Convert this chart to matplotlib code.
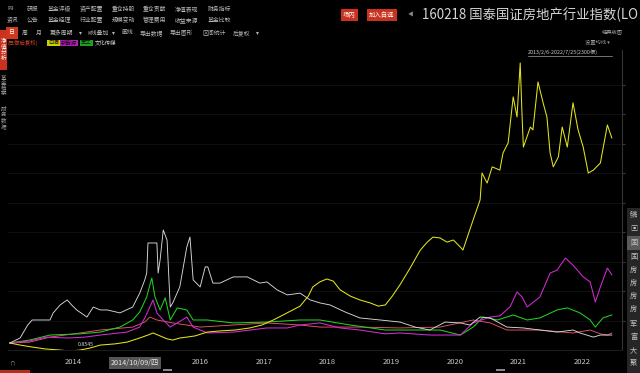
import matplotlib
matplotlib.use('Agg')
import matplotlib.pyplot as plt
from matplotlib.transforms import ScaledTranslation
from matplotlib.patches import Rectangle

plt.rcParams['font.family'] = ['Noto Sans CJK SC', 'DejaVu Sans']

# ---------------- data (normalised value, start = 1.0) ----------------
baijiu_t = [2013.10, 2013.26, 2013.46, 2013.65, 2013.89, 2014.04, 2014.20, 2014.36, 2014.52, 2014.75,
            2014.94, 2015.14, 2015.27, 2015.35, 2015.46, 2015.57, 2015.66, 2015.77, 2015.88, 2016.01,
            2016.20, 2016.40, 2016.64, 2016.87, 2017.06, 2017.24, 2017.42, 2017.66, 2017.79, 2017.86,
            2017.97, 2018.08, 2018.18, 2018.29, 2018.45, 2018.60, 2018.76, 2018.89, 2019.00, 2019.11,
            2019.23, 2019.39, 2019.55, 2019.66, 2019.75, 2019.86, 2019.97, 2020.07, 2020.18, 2020.22,
            2020.30, 2020.38, 2020.49, 2020.52, 2020.60, 2020.68, 2020.80, 2020.85, 2020.93, 2021.01,
            2021.07, 2021.12, 2021.15, 2021.17, 2021.28, 2021.32, 2021.40, 2021.48, 2021.54, 2021.59,
            2021.64, 2021.72, 2021.78, 2021.86, 2021.95, 2022.03, 2022.11, 2022.19, 2022.27, 2022.38,
            2022.49, 2022.56]
baijiu_v = [1.00, 0.93, 0.86, 0.80, 0.76, 0.73, 0.76, 0.83, 0.93, 0.97,
            1.03, 1.17, 1.27, 1.34, 1.24, 1.14, 1.10, 1.17, 1.20, 1.24,
            1.37, 1.41, 1.44, 1.51, 1.61, 1.78, 1.98, 2.25, 2.59, 2.90,
            3.07, 3.17, 3.10, 2.80, 2.59, 2.46, 2.36, 2.25, 2.29, 2.59,
            2.97, 3.54, 4.15, 4.42, 4.59, 4.56, 4.42, 4.49, 4.25, 4.15,
            4.66, 5.17, 5.85, 6.76, 6.42, 6.97, 6.86, 7.44, 7.78, 9.34,
            8.66, 10.49, 8.66, 7.64, 8.32, 8.22, 9.85, 9.14, 8.66, 7.44,
            6.97, 7.31, 8.32, 7.64, 9.14, 8.22, 7.64, 6.76, 6.86, 7.10,
            8.39, 7.95]

media_t = [2013.10, 2013.26, 2013.38, 2013.45, 2013.73, 2013.78, 2013.89, 2014.00, 2014.07, 2014.15,
           2014.31, 2014.41, 2014.52, 2014.63, 2014.83, 2015.03, 2015.14, 2015.22, 2015.25, 2015.27,
           2015.41, 2015.43, 2015.46, 2015.51, 2015.57, 2015.62, 2015.66, 2015.77, 2015.88, 2015.93,
           2015.98, 2016.09, 2016.17, 2016.21, 2016.29, 2016.40, 2016.61, 2016.83, 2017.03, 2017.14,
           2017.30, 2017.46, 2017.66, 2017.82, 2017.97, 2018.13, 2018.37, 2018.60, 2018.92, 2019.23,
           2019.47, 2019.70, 2019.94, 2020.18, 2020.33, 2020.49, 2020.65, 2020.91, 2021.17, 2021.43,
           2021.70, 2021.95, 2022.06, 2022.27, 2022.38, 2022.56]
media_v = [1.00, 1.17, 1.61, 1.78, 1.78, 2.02, 2.29, 2.46, 2.29, 2.12,
           1.88, 2.22, 2.12, 2.12, 2.02, 2.22, 2.69, 3.14, 3.37, 4.39,
           4.39, 3.37, 3.81, 4.83, 4.49, 2.22, 2.36, 2.90, 4.25, 4.59,
           3.14, 2.90, 3.58, 3.58, 3.03, 3.03, 3.24, 3.24, 3.03, 3.07,
           2.80, 2.63, 2.69, 2.46, 2.36, 2.29, 2.05, 1.85, 1.78, 1.71,
           1.54, 1.44, 1.71, 1.68, 1.61, 1.88, 1.85, 1.54, 1.51, 1.44,
           1.37, 1.44, 1.34, 1.20, 1.27, 1.27]

newenergy_t = [2013.10, 2013.41, 2013.68, 2014.00, 2014.28, 2014.52, 2014.94, 2015.14, 2015.22, 2015.30,
               2015.35, 2015.41, 2015.51, 2015.62, 2015.73, 2015.88, 2015.98, 2016.20, 2016.61, 2017.14,
               2017.46, 2017.66, 2017.97, 2018.29, 2018.60, 2019.00, 2019.23, 2019.70, 2020.18, 2020.38,
               2020.65, 2020.80, 2020.96, 2021.07, 2021.15, 2021.23, 2021.43, 2021.59, 2021.70, 2021.83,
               2021.95, 2022.11, 2022.22, 2022.30, 2022.38, 2022.49, 2022.56]
newenergy_v = [1.00, 1.07, 1.20, 1.17, 1.20, 1.27, 1.37, 1.54, 1.85, 2.22,
               2.46, 2.02, 1.78, 1.54, 1.68, 1.88, 1.54, 1.34, 1.37, 1.51,
               1.51, 1.61, 1.68, 1.51, 1.44, 1.31, 1.34, 1.27, 1.27, 1.68,
               1.88, 1.92, 2.22, 2.73, 2.56, 2.22, 2.56, 3.37, 3.47, 3.88,
               3.64, 3.24, 3.07, 2.39, 2.90, 3.54, 3.31]

military_t = [2013.10, 2013.41, 2013.73, 2014.20, 2014.52, 2014.83, 2015.03, 2015.14, 2015.25, 2015.30,
              2015.33, 2015.38, 2015.46, 2015.54, 2015.62, 2015.73, 2015.88, 2015.98, 2016.20, 2016.61,
              2017.14, 2017.66, 2017.97, 2018.45, 2019.00, 2019.23, 2019.86, 2020.18, 2020.38, 2020.54,
              2020.76, 2021.01, 2021.23, 2021.43, 2021.70, 2021.86, 2022.06, 2022.22, 2022.30, 2022.42,
              2022.56]
military_v = [1.00, 1.10, 1.27, 1.31, 1.37, 1.54, 1.78, 2.05, 2.56, 2.97,
              3.20, 2.56, 2.12, 2.53, 1.78, 2.19, 2.12, 1.78, 1.78, 1.68,
              1.71, 1.78, 1.78, 1.61, 1.44, 1.44, 1.44, 1.27, 1.54, 1.88,
              1.78, 1.95, 1.78, 1.85, 2.12, 2.19, 2.02, 1.78, 1.54, 1.85,
              1.95]

realestate_t = [2013.10, 2013.41, 2013.73, 2014.20, 2014.52, 2015.03, 2015.22, 2015.30, 2015.41, 2015.66,
                2016.09, 2016.61, 2017.14, 2017.66, 2017.97, 2018.60, 2019.23, 2019.86, 2020.38, 2020.65,
                2020.91, 2021.43, 2021.95, 2022.22, 2022.38, 2022.49, 2022.56]
realestate_v = [1.00, 1.03, 1.20, 1.34, 1.44, 1.54, 1.71, 1.88, 1.78, 1.68,
                1.54, 1.61, 1.68, 1.61, 1.54, 1.54, 1.51, 1.54, 1.78, 1.68,
                1.44, 1.44, 1.34, 1.44, 1.31, 1.27, 1.34]

year_ticks = [2014, 2016, 2017, 2018, 2019, 2020, 2021, 2022]
grid_levels = [1.75, 2.75, 3.75, 4.75, 5.75, 6.75, 7.75, 8.75, 9.75]

menu_row1 = ['F9', '研报', '基金评级', '资产配置', '重仓持股', '重仓贡献', '净值表现', '财务指标']
menu_row2 = ['资讯', '公告', '基金经理', '行业配置', '规模变动', '管理费用', '收益来源', '基金比较']
side_list = ['鳞', '▣', '国', '国', '房', '房', '房', '房', '军', '富', '大', '聚']

# ---------------- figure ----------------
W, H = 640, 373
fig = plt.figure(figsize=(6.4, 3.73), dpi=100, facecolor='black')


def fx(px):
    return px / W


def fy(py):
    return 1 - py / H


def ftext(px, py, s, **kw):
    kw.setdefault('color', '#b8b8b8')
    kw.setdefault('fontsize', 4.2)
    kw.setdefault('va', 'center')
    return fig.text(fx(px), fy(py), s, **kw)


def frect(x0, y0, x1, y1, color):
    fig.add_artist(Rectangle((fx(x0), fy(y1)), fx(x1) - fx(x0), fy(y0) - fy(y1),
                             transform=fig.transFigure, facecolor=color, edgecolor='none'))


# main chart axes
ax = fig.add_axes([fx(8), fy(350), fx(622) - fx(8), fy(50) - fy(350)])
ax.set_facecolor('black')
ax.set_xlim(2013.07, 2022.72)
ax.set_ylim(0.763, 10.93)

for lv in grid_levels:
    ax.axhline(lv, color='#121212', lw=0.6, zorder=0)

ax.plot(realestate_t, realestate_v, color='#e8556a', lw=0.65, zorder=2)
ax.plot(military_t, military_v, color='#22d022', lw=0.75, zorder=3)
ax.plot(newenergy_t, newenergy_v, color='#d42ad4', lw=0.75, zorder=3)
ax.plot(media_t, media_v, color='#d8d8d8', lw=0.65, zorder=4)
ax.plot(baijiu_t, baijiu_v, color='#e4e41c', lw=0.75, zorder=5)

ax.text(2014.17, 0.95, '0.8545', color='#d8d8d8', fontsize=3.8, va='center', zorder=6)

for s in ['top', 'left']:
    ax.spines[s].set_visible(False)
ax.spines['right'].set_color('#333333')
ax.spines['bottom'].set_color('#1c1c1c')
ax.yaxis.tick_right()
ax.set_yticks(grid_levels)
ax.tick_params(axis='y', length=2.5, color='#3a3a3a', labelright=False)
ax.set_xticks(year_ticks)
ax.set_xticklabels([str(y) for y in year_ticks])
ax.tick_params(axis='x', length=0, pad=6, labelsize=5.5, labelcolor='#c8c8c8')
shift = ScaledTranslation(6 / 100, 0, fig.dpi_scale_trans)
for lab in ax.get_xticklabels():
    lab.set_transform(lab.get_transform() + shift)

# highlighted date on x axis
ftext(135, 363, '2014/10/09/四', ha='center', fontsize=5.2, color='#e8e8e8',
      bbox=dict(boxstyle='square,pad=0.25', fc='#555555', ec='none'))
ftext(10, 363, '∩', fontsize=4, color='#888888')

# bottom scroll bar hints
frect(0, 370, 30, 373, '#b0301c')
frect(163, 369, 172, 371, '#888888')
frect(496, 369, 505, 371, '#888888')

# ---------------- top menus ----------------
row1_x = [7, 27, 48, 80, 112, 143, 175, 208]
for x, s in zip(row1_x, menu_row1):
    ftext(x, 9, s)
for x, s in zip(row1_x, menu_row2):
    ftext(x, 20, s)

frect(6, 27, 18, 39, '#d2381c')
ftext(12, 33, '日', ha='center', color='white')
row3 = [(22, '周'), (36, '月'), (50, '更多周期'), (79, '▾'), (87, 'K线叠加'), (112, '▾'),
        (122, '画线'), (140, '导出数据'), (170, '导出图形'), (202, '区间统计'), (233, '后复权'), (256, '▾')]
for x, s in row3:
    ftext(x, 33, s)

ftext(7, 43, '(已做后复权)', color='#d8402a', fontsize=3.9)
ftext(48, 43, '白酒', color='#202000', fontsize=3.9,
      bbox=dict(boxstyle='square,pad=0.15', fc='#c8d000', ec='none'))
ftext(61, 43, '新能源', color='#200020', fontsize=3.9,
      bbox=dict(boxstyle='square,pad=0.15', fc='#b020b0', ec='none'))
ftext(81, 43, '军工', color='#002000', fontsize=3.9,
      bbox=dict(boxstyle='square,pad=0.15', fc='#20a020', ec='none'))
ftext(95, 43, '文化传媒', color='#d0d0d0', fontsize=3.9)

# top right title block
ftext(343, 15, '场内', color='white', fontsize=4.6,
      bbox=dict(boxstyle='square,pad=0.35', fc='#c8321e', ec='none'))
ftext(369, 15, '加入自选', color='white', fontsize=4.6,
      bbox=dict(boxstyle='square,pad=0.35', fc='#c8321e', ec='none'))
ftext(408, 15, '◀', color='#888888', fontsize=4)
ftext(422, 15, '160218 国泰国证房地产行业指数(LO', color='#d6d6d6', fontsize=9.6)
ftext(602, 33, '经典版图', fontsize=3.8, color='#a0a0a0')
ftext(585, 43, '设置均线 ▾', fontsize=3.8, color='#a0a0a0')
ftext(528, 52, '2013/2/6-2022/7/25(2300根)', fontsize=3.9, color='#c8c8c8')
fig.add_artist(plt.Line2D([fx(528), fx(612)], [fy(56), fy(56)], color='#c8c8c8', lw=0.4))

# left side vertical tabs
frect(0, 30, 7, 70, '#c8321e')
ftext(3.5, 50, '净\n值\n分\n析', ha='center', color='white', fontsize=4, linespacing=1.1)
ftext(3.5, 86, '基\n金\n档\n案', ha='center', color='#a0a0a0', fontsize=4, linespacing=1.05)
ftext(3.5, 118, '财\n务\n数\n据', ha='center', color='#a0a0a0', fontsize=4, linespacing=1.05)

# right side list panel
frect(627, 208, 640, 373, '#262626')
frect(627, 236, 640, 250, '#5a5a5a')
side_y = [215, 229, 243, 257, 271, 284, 297, 310, 324, 337, 350, 363]
for y, s in zip(side_y, side_list):
    ftext(630, y, s, color='#c0c0c0', fontsize=5.2)

fig.savefig('out.png', dpi=100, facecolor='black')
